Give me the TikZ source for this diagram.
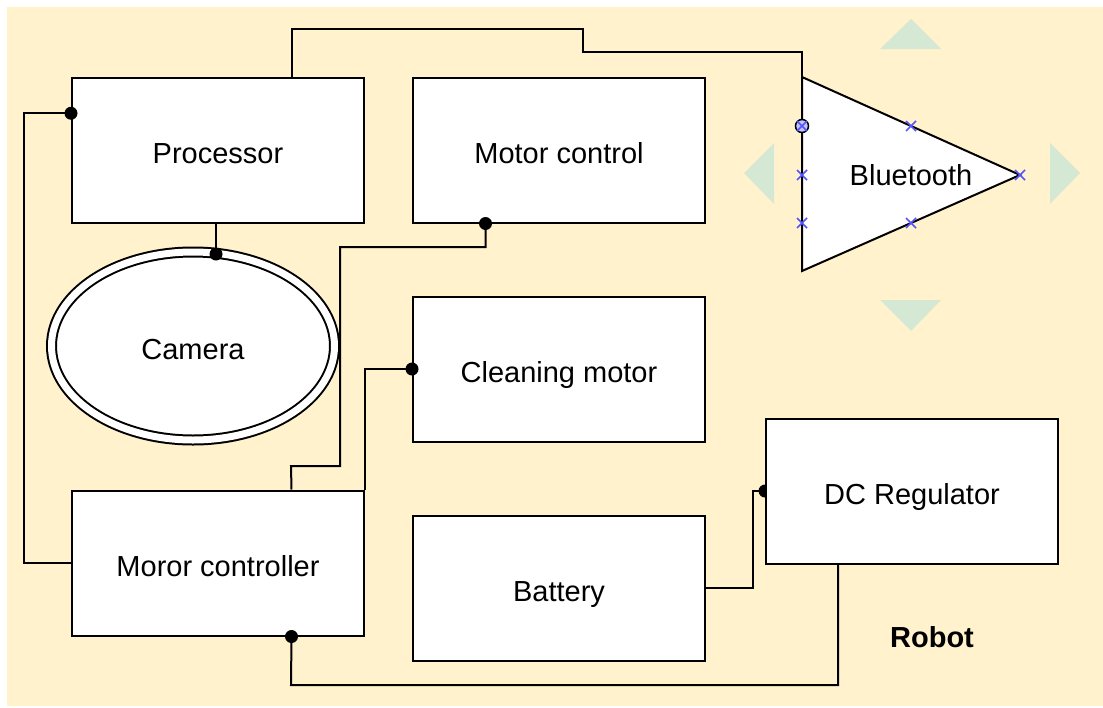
\documentclass[tikz,border=0pt]{standalone}
\usepackage{fontspec}
\setmainfont{Liberation Sans}
\usetikzlibrary{shapes.geometric,calc}
\definecolor{cream}{HTML}{FFF2CC}
\definecolor{hintgreen}{HTML}{D5E8D4}
\definecolor{markblue}{HTML}{5555FF}
\begin{document}
\begin{tikzpicture}[x=1pt,y=-1pt,
  txt/.style={font=\fontsize{29}{34}\selectfont,text height=26pt,text depth=0pt},
  blk/.style={txt,draw=black,fill=white,line width=2pt,minimum width=292pt,minimum height=145pt,inner sep=0pt},
  wire/.style={draw=black,line width=2pt,line join=miter},
  dotmark/.style={circle,fill=black,minimum size=13pt,inner sep=0pt},
  hint/.style={fill=hintgreen,draw=none},
  xmark/.style={draw=markblue,line width=1.6pt}
]
\useasboundingbox (0,0) rectangle (1103,707);
\fill[cream] (7,7) rectangle (1103,706);

% hover hint triangles
\fill[hint] (880,49) -- (911,19) -- (941,49) -- cycle;
\fill[hint] (880,300) -- (911,331) -- (941,300) -- cycle;
\fill[hint] (774,143) -- (744,173) -- (774,204) -- cycle;
\fill[hint] (1050,143) -- (1080,173) -- (1050,204) -- cycle;

% blocks
\node[blk] (proc) at (218,150) {Processor};
\node[blk] (mc) at (559,150) {Motor control};
\node[blk] (clean) at (559,369) {Cleaning motor};
\node[blk] (moror) at (218,563) {Moror controller};
\node[blk] (batt) at (559,588) {Battery};
\node[txt,ellipse,draw=black,fill=white,line width=2pt,double=white,double distance=7pt,minimum width=283pt,minimum height=188pt,inner sep=0pt] (cam) at (193,346) {Camera};

% Bluetooth triangle
\coordinate (btl) at (802,77);
\coordinate (bta) at (1020,175);
\coordinate (btb) at (802,271);
\draw[line width=2pt,fill=white,line join=miter] (btl) -- (bta) -- (btb) -- cycle;
\node[txt] (bt) at (911,172) {Bluetooth};
\coordinate (btin) at (802,126);

% connectors
\coordinate (camtop) at (216,254);
\draw[wire] ($(proc.north west)!0.75!(proc.north east)$) |- (583,29) |- (802,52) -- (btin);
\draw[wire] ($(proc.north west)!0.25!(proc.south west)$) -| (24,563) -- (moror.west);
\draw[wire] (proc.south -| camtop) -- (camtop);
\draw[wire] ($(mc.south west)!0.25!(mc.south east)$) |- (340,247) |- (291,466) -- ($(moror.north west)!0.75!(moror.north east)$);
\draw[wire] (clean.west) -| (moror.north east);
\draw[wire] (batt.east) -| (753,491) -- (765,491);
\draw[wire] (838,564) |- (291,685) -- ($(moror.south west)!0.75!(moror.south east)$);

% dots
\node[dotmark] (d1) at ($(proc.north west)!0.25!(proc.south west)$) {};
\node[dotmark] (d2) at (camtop) {};
\node[dotmark] (d3) at ($(mc.south west)!0.25!(mc.south east)$) {};
\node[dotmark] (d4) at (clean.west) {};
\node[dotmark] (d5) at ($(moror.south west)!0.75!(moror.south east)$) {};
\node[dotmark] (d6) at (765,491) {};

\node[blk] (dcr) at (912,491) {DC Regulator};
\draw[wire] ($(dcr.south west)!0.25!(dcr.south east)$) -- (838,564);

% connection point markers on Bluetooth
\node[circle,draw=black,line width=1.5pt,minimum size=13pt,inner sep=0pt,fill=markblue!35] (btc) at (btin) {};
\foreach \px/\py in {802/126,802/175,802/223,911/126,911/223,1020/175}{
  \draw[xmark] (\px-5,\py-5) -- (\px+5,\py+5) (\px-5,\py+5) -- (\px+5,\py-5);
}

\node[txt,font=\bfseries\fontsize{29}{34}\selectfont] (robot) at (932,634) {Robot};
\end{tikzpicture}
\end{document}
